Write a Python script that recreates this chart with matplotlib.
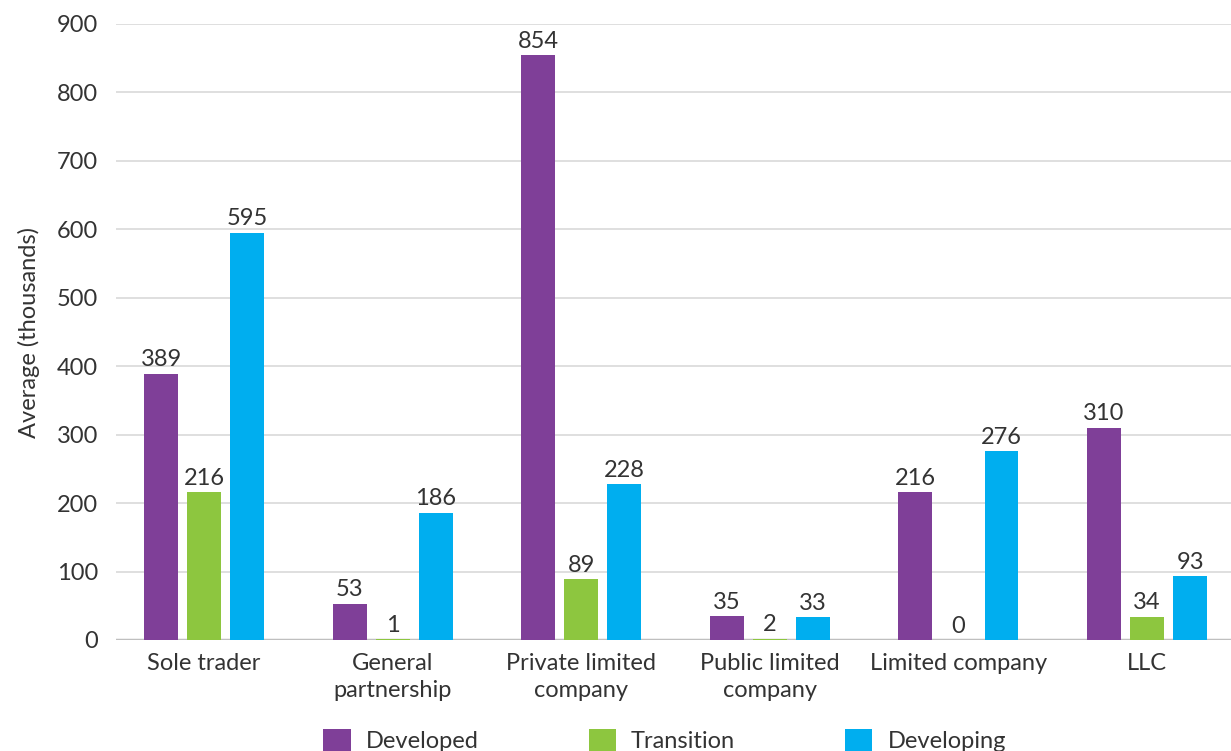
import numpy as np
import matplotlib.pyplot as plt

plt.rcParams['font.family'] = ['Lato', 'DejaVu Sans']

# data
categories = ['Sole trader', 'General\npartnership', 'Private limited\ncompany',
              'Public limited\ncompany', 'Limited company', 'LLC']
developed = [389, 53, 854, 35, 216, 310]
transition = [216, 1, 89, 2, 0, 34]
developing = [595, 186, 228, 33, 276, 93]

series = [('Developed', developed, '#7f3f98'),
          ('Transition', transition, '#8dc63f'),
          ('Developing', developing, '#00aeef')]

txt = '#333333'
fs = 17

fig = plt.figure(figsize=(12.31, 7.51), dpi=100)
ax = fig.add_axes([116 / 1231, 1 - 640 / 751, (1231 - 116) / 1231, (640 - 24) / 751])

x = np.arange(len(categories))
w = 0.18
off = 0.228
for i, (name, vals, col) in enumerate(series):
    pos = x + (i - 1) * off
    ax.bar(pos, vals, width=w, color=col, label=name, zorder=3)
    for p, v in zip(pos, vals):
        ax.text(p, v + 5, str(v), ha='center', va='bottom', fontsize=fs, color=txt)

ax.set_ylim(0, 900)
ax.set_xlim(-0.467, 5.445)
ax.set_yticks(range(0, 901, 100))
ax.yaxis.grid(True, color='#d9d9d9', linewidth=1.2, zorder=0)
ax.axhline(0, color='#bfbfbf', linewidth=2.5, zorder=2)
for s in ax.spines.values():
    s.set_visible(False)
ax.tick_params(axis='both', length=0, labelsize=fs, labelcolor=txt)
ax.tick_params(axis='y', pad=13)
ax.tick_params(axis='x', pad=9)
ax.set_xticks(x)
ax.set_xticklabels(categories, linespacing=1.4)
ax.set_ylabel('Average (thousands)', fontsize=fs, color=txt, labelpad=12)

fig.legend(loc='center', bbox_to_anchor=(0.54, 0.014), ncol=3, frameon=False,
           fontsize=fs, handlelength=1.15, handleheight=1.15, handletextpad=0.65,
           columnspacing=4.65, labelcolor=txt)

fig.savefig('out.png', dpi=100)
